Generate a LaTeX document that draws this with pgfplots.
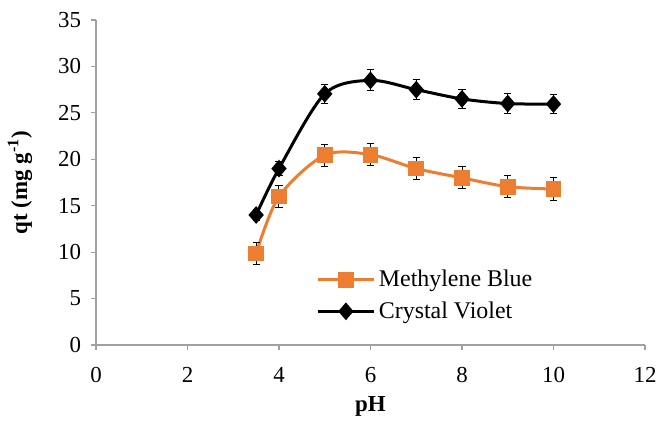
\documentclass[border=0pt]{standalone}
\usepackage{fontspec}
\setmainfont{Liberation Serif}
\usepackage{pgfplots}
\pgfplotsset{compat=1.18}
\definecolor{mborange}{HTML}{ED7D31}
\definecolor{axgray}{HTML}{A0A0A0}
\pgfplotstableread{
x y e
3.5 9.85 1.15
4 16.0 1.15
5 20.45 1.18
6 20.5 1.2
7 19.0 1.18
8 18.0 1.18
9 17.05 1.18
10 16.8 1.2
}\mbdata
\pgfplotstableread{
x y e
3.5 14.0 0.55
4 19.0 0.77
5 27.05 1.05
6 28.5 1.12
7 27.5 1.08
8 26.5 1.03
9 26.0 1.04
10 25.95 1.05
}\cvdata
\begin{document}
\begin{tikzpicture}
\path[use as bounding box] (-48bp,-39.5bp) rectangle (280.5bp,172.5bp);
\begin{axis}[
  at={(0,0)}, anchor=south west,
  scale only axis, width=274.5bp, height=162.5bp,
  xmin=0, xmax=12, ymin=0, ymax=35,
  xtick={0,2,...,12}, ytick={0,5,...,35},
  axis x line*=bottom, axis y line*=left,
  axis line style={axgray, line width=0.6bp},
  tick style={axgray, line width=0.6bp},
  tick align=outside, major tick length=2.5bp,
  font=\fontsize{11.5}{13}\selectfont,
  /pgf/number format/assume math mode=true,
  yticklabel style={xshift=-1.5bp},
  xticklabel style={yshift=-5bp},
  xlabel={\textbf{pH}},
  ylabel={\textbf{qt (mg g\textsuperscript{-1})}},
  xlabel style={at={(axis description cs:0.5,-0.19)}, anchor=center, font=\fontsize{11.5}{13}\selectfont},
  ylabel style={at={(axis description cs:-0.1384,0.5)}, anchor=center, font=\fontsize{11.5}{13}\selectfont},
  legend style={draw=none, fill=none, at={(axis cs:4.82,8.55)}, anchor=north west,
    font=\fontsize{12}{14}\selectfont, row sep=2bp, inner sep=0pt},
  legend cell align=left,
  legend image code/.code={\draw[mark repeat=2,mark phase=2,#1] plot coordinates {(0bp,0bp) (13.75bp,0bp) (27.5bp,0bp)};},
]
\addplot[mborange, line width=1.5bp, smooth, tension=0.5, mark=square*, mark size=3.2bp,
  mark options={solid, mborange},
  error bars/.cd, y dir=both, y explicit,
  error bar style={black, line width=0.5bp},
  error mark options={rotate=90, black, mark size=1.8bp, line width=0.5bp}]
  table[x=x, y=y, y error=e]{\mbdata};
\addlegendentry{Methylene Blue}
\addplot[black, line width=1.5bp, smooth, tension=0.5, mark=diamond*, mark size=3.3bp,
  mark options={solid, black, xscale=1.15},
  error bars/.cd, y dir=both, y explicit,
  error bar style={black, line width=0.5bp},
  error mark options={rotate=90, black, mark size=1.8bp, line width=0.5bp}]
  table[x=x, y=y, y error=e]{\cvdata};
\addlegendentry{Crystal Violet}
\end{axis}
\end{tikzpicture}
\end{document}
